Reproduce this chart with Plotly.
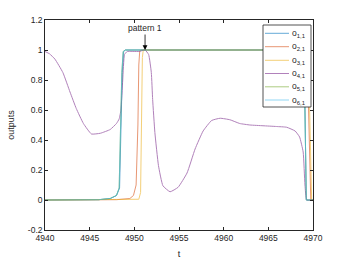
import plotly.graph_objects as go

# ---- data ----
t_o1 = [4940, 4946, 4947.3, 4948.0, 4948.35, 4948.5, 4948.65, 4948.8, 4949.0, 4969.0, 4969.1, 4969.25, 4970]
o1 = [0, 0.002, 0.01, 0.03, 0.08, 0.4, 0.85, 0.99, 1, 1, 0.6, 0, 0]

t_o2 = [4940, 4948, 4949.5, 4949.9, 4950.2, 4950.4, 4950.5, 4950.6, 4950.8, 4969.2, 4969.35, 4969.5, 4969.65, 4969.75, 4970]
o2 = [0, 0.002, 0.01, 0.03, 0.1, 0.5, 0.9, 0.99, 1, 1, 0.97, 0.6, 0.05, 0, 0]

t_o3 = [4940, 4950.5, 4950.7, 4950.8, 4950.9, 4951.0, 4951.2, 4969.3, 4969.5, 4969.7, 4969.85, 4970]
o3 = [0, 0.005, 0.05, 0.5, 0.95, 1, 1, 1, 0.95, 0.5, 0, 0]

t_o4 = [4940, 4940.5, 4941.1, 4942.0, 4942.8, 4943.5, 4944.3, 4945.2, 4946.2, 4947.3, 4948.0,
        4948.3, 4948.5, 4948.7, 4948.9, 4949.2, 4950.5, 4951.2, 4951.6, 4951.9, 4952.05, 4952.3,
        4952.7, 4953.2, 4954.0, 4954.9, 4955.9, 4956.8, 4957.7, 4958.65, 4959.6, 4960.7, 4961.8,
        4962.95, 4964.4, 4965.9, 4967.05, 4968.0, 4968.5, 4968.9, 4969.1, 4969.3, 4970]
o4 = [0.99, 0.975, 0.94, 0.85, 0.72, 0.61, 0.51, 0.44, 0.445, 0.47, 0.51,
      0.54, 0.6, 0.8, 0.97, 0.99, 0.99, 1.0, 0.97, 0.85, 0.67, 0.45,
      0.23, 0.095, 0.055, 0.085, 0.18, 0.34, 0.46, 0.53, 0.545, 0.535, 0.51,
      0.50, 0.495, 0.49, 0.485, 0.46, 0.42, 0.32, 0.1, 0.0, 0.0]

t_o5 = [4940, 4946, 4947.3, 4948.0, 4948.3, 4948.45, 4948.6, 4948.75, 4949.0, 4969.0, 4969.1, 4969.25, 4970]
o5 = [0, 0.002, 0.01, 0.03, 0.08, 0.4, 0.85, 0.99, 1, 1, 0.6, 0, 0]

t_o6 = [4940, 4946, 4947.3, 4948.0, 4948.3, 4948.45, 4948.6, 4948.75, 4949.0, 4969.0, 4969.1, 4969.25, 4970]
o6 = [0, 0.002, 0.01, 0.03, 0.08, 0.4, 0.85, 0.99, 1, 1, 0.6, 0, 0]

names = ["o<sub>1,1</sub>", "o<sub>2,1</sub>", "o<sub>3,1</sub>",
         "o<sub>4,1</sub>", "o<sub>5,1</sub>", "o<sub>6,1</sub>"]
colors = ["#0072BD", "#D95319", "#EDB120", "#7E2F8E", "#77AC30", "#4DBEEE"]

x_ticks = [4940, 4945, 4950, 4955, 4960, 4965, 4970]
y_ticks = [-0.2, 0, 0.2, 0.4, 0.6, 0.8, 1, 1.2]
y_ticktext = ["-0.2", "0", "0.2", "0.4", "0.6", "0.8", "1", "1.2"]

series = [(t_o1, o1), (t_o2, o2), (t_o3, o3), (t_o4, o4), (t_o5, o5), (t_o6, o6)]

W, H = 346, 260
ML, MR, MT, MB = 45, 33, 20, 30
PW, PH = W - ML - MR, H - MT - MB


def px_x(X):
    return (X - ML) / PW


def px_y(Y):
    return (H - MB - Y) / PH


fig = go.Figure()
for i, ((tx, ty), nm, col) in enumerate(zip(series, names, colors)):
    if i == 3:
        line = dict(color=col, width=1, shape="spline", smoothing=0.4)
    else:
        line = dict(color=col, width=1, shape="linear")
    fig.add_trace(go.Scatter(x=tx, y=ty, name=nm, mode="lines", line=line, opacity=0.6,
                             showlegend=False, hoverinfo="skip"))

fig.add_annotation(
    x=4951.2, y=1.0, xref="x", yref="y",
    text="pattern 1", showarrow=True,
    ax=0, ay=-22, arrowhead=2, arrowsize=1.2, arrowwidth=0.8,
    arrowcolor="black", standoff=0,
    font=dict(size=8.5, color="#262626"),
)

# ---- legend box (MATLAB style, compact) ----
fig.add_shape(type="rect", xref="paper", yref="paper",
              x0=px_x(263), x1=px_x(311), y0=px_y(107), y1=px_y(25),
              line=dict(color="#262626", width=0.8), fillcolor="white", layer="above")
row_y = [33.3, 46.7, 60.3, 73.5, 86.8, 100.0]
for nm, col, ry in zip(names, colors, row_y):
    fig.add_shape(type="line", xref="paper", yref="paper",
                  x0=px_x(265), x1=px_x(289), y0=px_y(ry), y1=px_y(ry),
                  line=dict(color=col, width=1), opacity=0.6, layer="above")
    fig.add_annotation(x=px_x(290), y=px_y(ry), xref="paper", yref="paper",
                       text=nm, showarrow=False, xanchor="left", yanchor="middle",
                       font=dict(size=8.5, color="#262626"))

axis_common = dict(
    showgrid=False, zeroline=False, showline=True, linecolor="#262626", linewidth=0.6,
    mirror="allticks", ticks="inside", ticklen=3, tickwidth=0.6, tickcolor="#262626",
    tickfont=dict(size=8.5, color="#262626"), automargin=False,
)

fig.update_xaxes(range=[4940, 4970], tickvals=x_ticks, ticktext=[str(v) for v in x_ticks],
                 title=dict(text="t", font=dict(size=9, color="#262626"), standoff=8),
                 **axis_common)
fig.update_yaxes(range=[-0.2, 1.2], tickvals=y_ticks, ticktext=y_ticktext,
                 title=dict(text="outputs", font=dict(size=9, color="#262626"), standoff=11),
                 **axis_common)

fig.update_layout(
    width=W, height=H,
    margin=dict(l=ML, r=MR, t=MT, b=MB, autoexpand=False),
    paper_bgcolor="white", plot_bgcolor="white",
    font=dict(family="Liberation Sans, Arial, sans-serif", color="#262626"),
    showlegend=False,
)

fig.write_html("out.html", config={"displayModeBar": False},
               post_script="document.body.style.margin='0';")
